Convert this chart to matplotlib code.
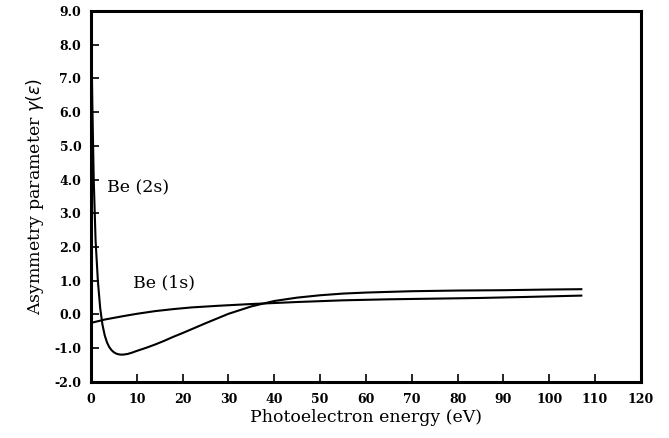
import matplotlib
matplotlib.use("Agg")
import matplotlib.pyplot as plt

# Data
x_2s = [0.0, 0.3, 0.6, 1.0, 1.5, 2.0, 2.5, 3.0, 3.5, 4.0, 4.5, 5.0, 5.5, 6.0, 6.5, 7.0, 8.0, 9.0,
        10.0, 12.0, 14.0, 16.0, 18.0, 20.0, 25.0, 30.0, 35.0, 40.0, 45.0, 50.0, 55.0, 60.0,
        70.0, 80.0, 90.0, 100.0, 107.0]
y_2s = [9.0, 6.2, 4.0, 2.2, 1.0, 0.2, -0.3, -0.62, -0.83, -0.97, -1.06, -1.12, -1.16, -1.18, -1.19,
        -1.19, -1.17, -1.13, -1.08, -0.99, -0.89, -0.78, -0.66, -0.55, -0.26, 0.02, 0.24, 0.4,
        0.5, 0.57, 0.62, 0.65, 0.69, 0.71, 0.72, 0.74, 0.75]

x_1s = [0.0, 3.0, 7.0, 10.0, 14.0, 18.0, 22.0, 28.0, 35.0, 45.0, 55.0, 65.0, 75.0, 85.0, 95.0, 107.0]
y_1s = [-0.25, -0.15, -0.05, 0.02, 0.10, 0.16, 0.21, 0.26, 0.31, 0.37, 0.42, 0.45, 0.47, 0.49, 0.52, 0.56]

x_ticks = [0, 10, 20, 30, 40, 50, 60, 70, 80, 90, 100, 110, 120]
y_ticks = [-2.0, -1.0, 0.0, 1.0, 2.0, 3.0, 4.0, 5.0, 6.0, 7.0, 8.0, 9.0]
y_tick_labels = ["-2.0", "-1.0", "0.0", "1.0", "2.0", "3.0", "4.0", "5.0", "6.0", "7.0", "8.0", "9.0"]

fig = plt.figure(figsize=(6.69, 4.38), dpi=100)
ax = fig.add_axes([0.136, 0.128, 0.822, 0.847])

ax.plot(x_2s, y_2s, color="black", lw=1.5, solid_joinstyle="round")
ax.plot(x_1s, y_1s, color="black", lw=1.5, solid_joinstyle="round")

ax.set_xlim(0, 120)
ax.set_ylim(-2.0, 9.0)
ax.set_xticks(x_ticks)
ax.set_xticklabels([str(t) for t in x_ticks])
ax.set_yticks(y_ticks)
ax.set_yticklabels(y_tick_labels)

for lab in ax.get_xticklabels() + ax.get_yticklabels():
    lab.set_fontfamily("DejaVu Serif")
    lab.set_fontweight("bold")
    lab.set_fontsize(9)

ax.tick_params(axis="x", direction="in", length=6, width=1.2, top=False, pad=8)
ax.tick_params(axis="y", direction="in", length=6, width=1.2, right=False, pad=7)
for s in ax.spines.values():
    s.set_linewidth(2.2)

ax.set_xlabel("Photoelectron energy (eV)", fontfamily="DejaVu Serif", fontsize=12.5, labelpad=2)
ax.set_ylabel(r"Asymmetry parameter $\gamma(\varepsilon)$", fontfamily="DejaVu Serif", fontsize=12.5, labelpad=6)

ax.text(3.6, 3.75, "Be (2s)", fontfamily="DejaVu Serif", fontsize=12.5, va="center", ha="left")
ax.text(9.2, 0.95, "Be (1s)", fontfamily="DejaVu Serif", fontsize=12.5, va="center", ha="left")

fig.savefig("out.png", dpi=100)
